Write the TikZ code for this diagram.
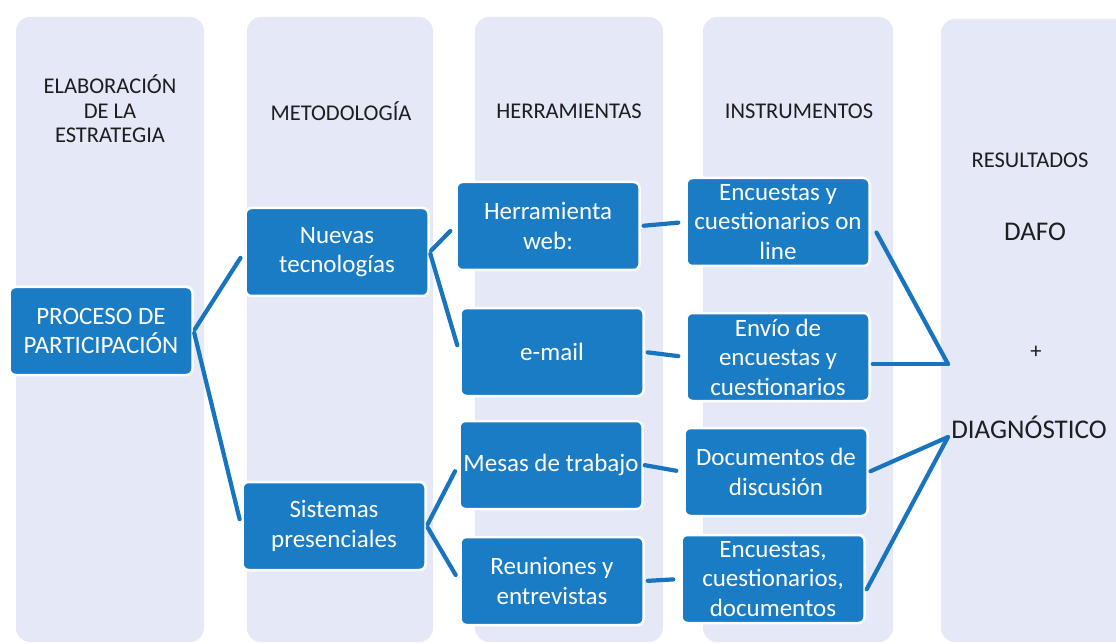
\documentclass[tikz,border=0pt]{standalone}
\usepackage{fontspec}
\setmainfont{Carlito}
\usepackage{tikz}
\usetikzlibrary{positioning}
\definecolor{boxblue}{RGB}{26,124,196}
\definecolor{linkblue}{RGB}{24,116,190}
\definecolor{colbg}{RGB}{228,232,247}
\definecolor{inkgray}{RGB}{30,30,30}

\begin{document}
\begin{tikzpicture}[
    x=1pt, y=-1pt,
    column/.style={fill=colbg, rounded corners=14pt},
    heading/.style={text=inkgray, align=center, font=\fontsize{22.5}{24.5}\selectfont},
    result/.style={text=inkgray, align=center, font=\fontsize{27}{29}\selectfont},
    box/.style={rectangle, rounded corners=6pt, fill=boxblue, draw=white, line width=2.5pt,
        text=white, align=center, minimum width=183pt, minimum height=88pt, inner sep=0pt,
        font=\fontsize{25}{29.5}\selectfont},
    link/.style={draw=linkblue, line width=4.2pt, line cap=round, shorten >=7pt, shorten <=2pt}
]
    \useasboundingbox (0,0) rectangle (1116,644);

    % Column backgrounds
    \fill[column] (16,17) rectangle (204,642);
    \fill[column] (247,17) rectangle (433,642);
    \fill[column] (475,17) rectangle (663,642);
    \fill[column] (703,17) rectangle (893,642);
    \fill[column] (941,19) rectangle (1140,642);

    % Headings
    \node[heading] (h_estr) at (110,109) {ELABORACIÓN\\DE LA\\ESTRATEGIA};
    \node[heading] (h_met) at (341,111) {METODOLOGÍA};
    \node[heading] (h_herr) at (569,111) {HERRAMIENTAS};
    \node[heading] (h_inst) at (799,111) {INSTRUMENTOS};
    \node[heading] (h_res) at (1030,160) {RESULTADOS};
    \node[result] (dafo) at (1035,232) {DAFO};
    \node[heading] (plus) at (1036,352) {+};
    \node[result] (diag) at (1029,427) {DIAGNÓSTICO};

    % Arrange boxes
    \node[box] (proc) at (101,331) {PROCESO DE\\PARTICIPACIÓN};
    \node[box] (nuevas) at (337,252) {Nuevas\\tecnologías};
    \node[box] (sist) at (334,526) {Sistemas\\presenciales};
    \node[box] (herr) at (548,226) {Herramienta\\web:};
    \node[box] (email) at (552,352) {e-mail};
    \node[box] (mesas) at (551,465) {Mesas de trabajo};
    \node[box] (reun) at (552,581) {Reuniones y\\entrevistas};
    \node[box] (onl) at (778,222) {Encuestas y\\cuestionarios on\\line};
    \node[box] (envio) at (778,357) {Envío de\\encuestas y\\cuestionarios};
    \node[box] (docs) at (776,472) {Documentos de\\discusión};
    \node[box] (encu) at (773,579) {Encuestas,\\cuestionarios,\\documentos};

    \coordinate (toDafo) at (948,364);
    \coordinate (toDiag) at (948,437);

    % Connectors
    \path[link]
        (proc.east) edge (nuevas.west)
        (proc.east) edge (sist.west)
        (nuevas.east) edge (herr.west)
        (nuevas.east) edge (email.west)
        (sist.east) edge (mesas.west)
        (sist.east) edge (reun.west)
        (herr.east) edge[shorten <=3pt] (onl.west)
        (email.east) edge[shorten <=3pt] (envio.west)
        (mesas.east) edge[shorten <=1pt] (docs.west)
        (reun.east) edge[shorten <=3pt] (encu.west);
    \path[link, shorten >=0pt]
        (onl.east) edge[shorten <=12pt] (toDafo)
        (envio.east |- toDafo) edge (toDafo)
        (docs.east) edge (toDiag)
        ([yshift=-12pt]encu.east) edge (toDiag);
\end{tikzpicture}
\end{document}
